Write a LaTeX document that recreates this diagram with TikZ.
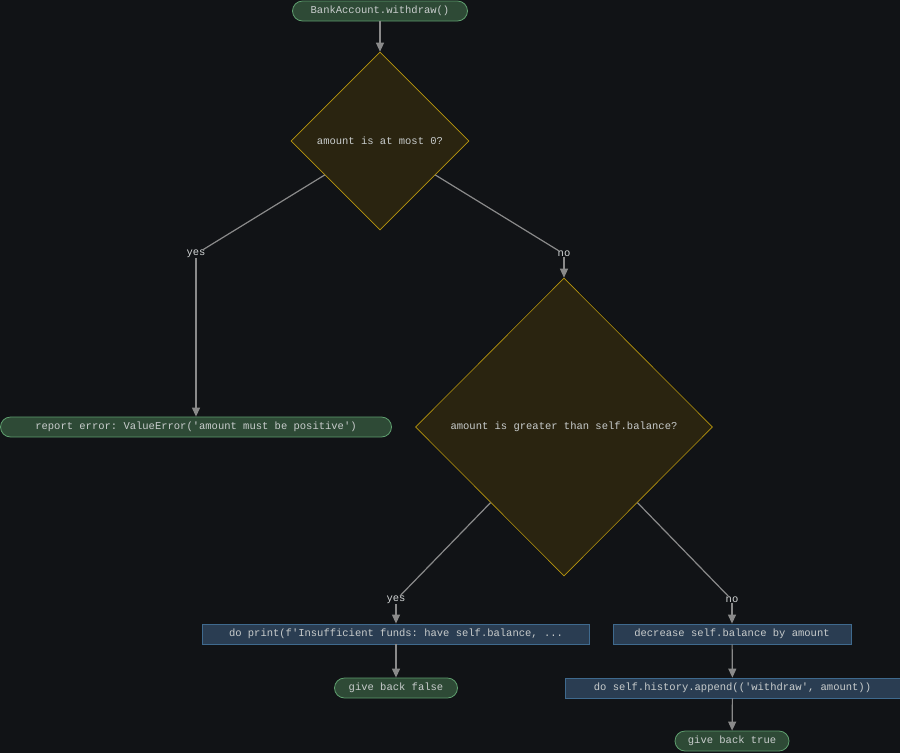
\documentclass[tikz,border=0pt]{standalone}
\usepackage{fontspec}
\setmonofont{Liberation Mono}
\usetikzlibrary{shapes.geometric,arrows.meta}
\definecolor{bgc}{HTML}{111316}
\definecolor{txt}{HTML}{C8CCCC}
\definecolor{termf}{HTML}{2E4A36}
\definecolor{termd}{HTML}{5E9E6E}
\definecolor{procf}{HTML}{2A3D52}
\definecolor{procd}{HTML}{3F6A8E}
\definecolor{decf}{HTML}{2A2410}
\definecolor{decd}{HTML}{B8960E}
\definecolor{edgec}{HTML}{8A8A8A}
\tikzset{
  base/.style={text=txt,font=\ttfamily\fontsize{10.5}{12}\selectfont,inner sep=0pt},
  term/.style={base,draw=termd,fill=termf,rounded corners=10pt,minimum height=20pt,line width=0.8pt},
  proc/.style={base,draw=procd,fill=procf,minimum height=20pt,line width=0.8pt},
  dec/.style={base,diamond,shape aspect=1,draw=decd,fill=decf,line width=0.6pt},
  lab/.style={base,text=txt!80},
  flow/.style={draw=edgec,line width=1.2pt},
  arr/.style={flow,-{Triangle[length=9pt,width=8pt]}}
}
\begin{document}
\begin{tikzpicture}[x=1pt,y=-1pt]
  \fill[bgc] (0,0) rectangle (900,753);
  \useasboundingbox (0,0) rectangle (900,753);
  % nodes
  \node[term,minimum width=175pt] (start) at (380,11) {BankAccount.withdraw()};
  \node[dec,minimum width=178pt,minimum height=178pt] (d1) at (380,141) {amount is at most 0?};
  \node[lab] (y1) at (196,254) {yes};
  \node[lab] (n1) at (564,254) {no};
  \node[term,minimum width=391pt] (err) at (196,427) {report error: ValueError('amount must be positive')};
  \node[dec,minimum width=297pt,minimum height=298pt] (d2) at (564,427) {amount is greater than self.balance?};
  \node[lab] (y2) at (396,600) {yes};
  \node[lab] (n2) at (732,600) {no};
  \node[proc,minimum width=387pt] (prt) at (396,634) {do print(f'Insufficient funds: have self.balance, ...};
  \node[proc,minimum width=238pt] (dcr) at (732,634) {decrease self.balance by amount};
  \node[term,minimum width=123pt] (fls) at (396,688) {give back false};
  \node[proc,minimum width=335pt] (app) at (732.5,688) {do self.history.append(('withdraw', amount))};
  \node[term,minimum width=114pt] (tru) at (732,741) {give back true};
  % connectors
  \draw[arr] (start) -- (d1);
  \draw[flow] (d1) -- (y1);
  \draw[flow] (d1) -- (n1);
  \draw[arr] (y1) -- (err);
  \draw[arr] (n1) -- (d2);
  \draw[flow] (d2) -- (y2);
  \draw[flow] (d2) -- (n2);
  \draw[arr] (y2) -- (prt);
  \draw[arr] (n2) -- (dcr);
  \draw[arr] (prt) -- (fls);
  \draw[arr] (dcr) -- (app);
  \draw[arr] (app) -- (tru);
\end{tikzpicture}
\end{document}
